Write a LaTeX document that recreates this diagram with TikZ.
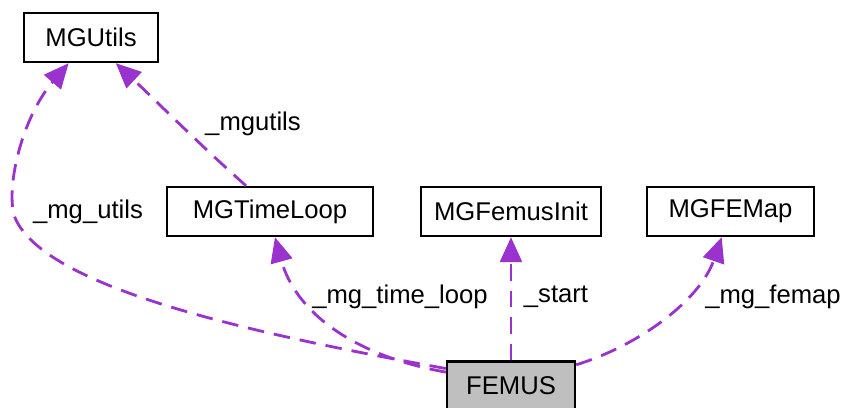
\documentclass[tikz,border=0pt]{standalone}
\usepackage{fontspec}
\setmainfont{Liberation Sans}
\usetikzlibrary{arrows.meta, positioning}
\definecolor{edgepurple}{HTML}{9A32CD}
\definecolor{femusgray}{HTML}{BFBFBF}

\begin{document}
\begin{tikzpicture}[x=0.02cm, y=-0.02cm,
  cls/.style={draw, line width=1.4pt, inner sep=0pt, minimum height=0.98cm,
    font=\fontsize{14.6}{16}\selectfont},
  lbl/.style={inner sep=0pt, font=\fontsize{14.6}{16}\selectfont},
  usage/.style={draw=edgepurple, line width=1.6pt, dash pattern=on 0.33cm off 0.2cm,
    -{Triangle[length=0.5cm, width=0.44cm, fill=edgepurple]}}]

  \useasboundingbox (0,0) rectangle (845,408);

  % classes
  \node[cls, minimum width=2.68cm] (utils) at (91,37.5) {MGUtils};
  \node[cls, minimum width=4.12cm] (tloop) at (270,211.5) {MGTimeLoop};
  \node[cls, minimum width=3.6cm] (init) at (511,211.5) {MGFemusInit};
  \node[cls, minimum width=3.34cm] (femap) at (730.5,211.5) {MGFEMap};
  \node[cls, minimum width=2.56cm, fill=femusgray] (femus) at (511,386) {FEMUS};

  % usage edges
  \draw[usage] (femus.165) .. controls (260,335) and (50,290) .. (16,220)
    .. controls (4,195) and (20,120) .. (utils.229);
  \draw[usage] (tloop.133) .. controls (200,145) and (150,95) .. (utils.314);
  \draw[usage] (femus.168) .. controls (350,355) and (295,310) .. (tloop.-79);
  \draw[usage] (femus.north) -- (init.south);
  \draw[usage] (femus.18) .. controls (640,345) and (700,300) .. (femap.251);

  % labels
  \node[lbl] (l_utils) at (88,212) {\_mg\_utils};
  \node[lbl] (l_mgutils) at (253,124) {\_mgutils};
  \node[lbl] (l_tloop) at (400,297) {\_mg\_time\_loop};
  \node[lbl] (l_start) at (556,297) {\_start};
  \node[lbl] (l_femap) at (773,297) {\_mg\_femap};
\end{tikzpicture}
\end{document}
